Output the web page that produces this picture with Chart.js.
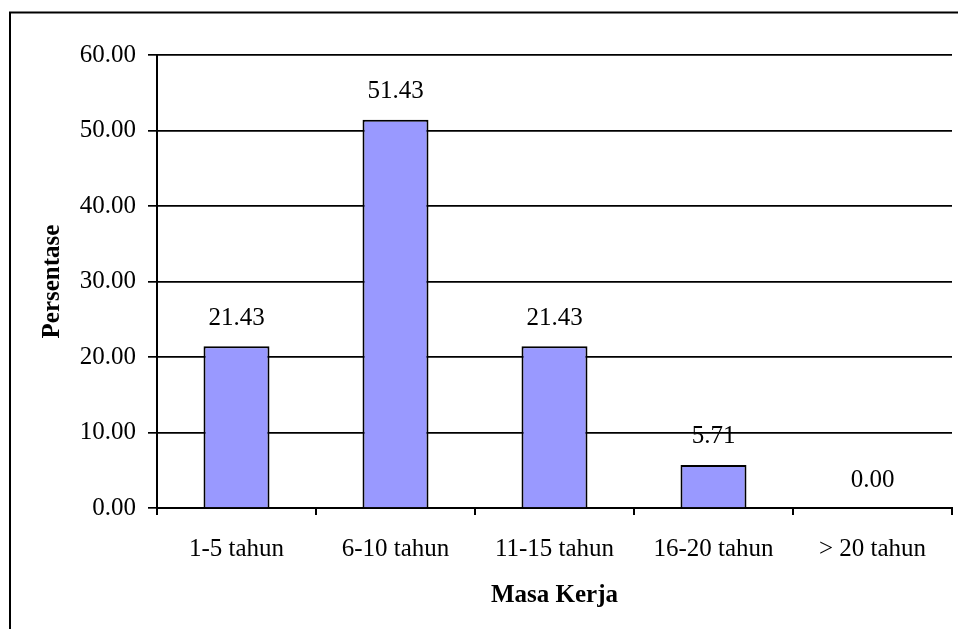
<!DOCTYPE html>
<html>
<head>
<meta charset="utf-8">
<script src="https://cdn.jsdelivr.net/npm/chart.js@4/dist/chart.umd.min.js"></script>
<style>
html,body{margin:0;padding:0;background:#fff;overflow:hidden;}
canvas{display:block;}
</style>
</head>
<body>
<canvas id="c" width="958" height="629"></canvas>
<script>
const categories = ["1-5 tahun", "6-10 tahun", "11-15 tahun", "16-20 tahun", "> 20 tahun"];
const values = [21.43, 51.43, 21.43, 5.71, 0.00];
const yTitle = "Persentase";
const xTitle = "Masa Kerja";

const FONT = "'Liberation Serif', 'Times New Roman', serif";

const framePlugin = {
  id: 'frame',
  beforeDraw(chart) {
    const ctx = chart.ctx;
    ctx.save();
    ctx.fillStyle = '#fff';
    ctx.fillRect(0, 0, chart.width, chart.height);
    ctx.strokeStyle = '#000';
    ctx.lineWidth = 2;
    ctx.strokeRect(10, 12.5, 1200, 1200);
    ctx.restore();
  }
};

const labelPlugin = {
  id: 'valueLabels',
  afterDatasetsDraw(chart) {
    const ctx = chart.ctx;
    const meta = chart.getDatasetMeta(0);
    ctx.save();
    ctx.font = "25px " + FONT;
    ctx.fillStyle = '#000';
    ctx.textAlign = 'center';
    ctx.textBaseline = 'middle';
    meta.data.forEach((bar, i) => {
      ctx.fillText(values[i].toFixed(2), bar.x, bar.y - 28);
    });
    ctx.restore();
  }
};

new Chart(document.getElementById('c'), {
  type: 'bar',
  data: {
    labels: categories,
    datasets: [{
      data: values,
      backgroundColor: '#9999FF',
      borderColor: '#000',
      borderWidth: 2,
      barPercentage: 0.415,
      categoryPercentage: 1.0
    }]
  },
  options: {
    responsive: false,
    animation: false,
    devicePixelRatio: 1,
    layout: { padding: { left: 10, top: 55, right: 6, bottom: 0 } },
    plugins: { legend: { display: false }, tooltip: { enabled: false } },
    scales: {
      x: {
        afterFit(s) { s.height = 121; },
        grid: { display: true, offset: true, drawOnChartArea: false, color: '#000', lineWidth: 2, tickLength: 7 },
        border: { display: true, color: '#000', width: 2 },
        ticks: { color: '#000', font: { family: FONT, size: 25 }, padding: 19, maxRotation: 0 },
        title: { display: true, text: xTitle, color: '#000', font: { family: FONT, size: 25, weight: 'bold' }, padding: { top: 0, bottom: 18 } }
      },
      y: {
        min: 0, max: 60,
        afterFit(s) { s.width = 147; },
        grid: { color: '#000', lineWidth: 1.7, tickLength: 9, drawTicks: true },
        border: { display: true, color: '#000', width: 2 },
        ticks: { stepSize: 10, color: '#000', font: { family: FONT, size: 25 }, padding: 12, callback: v => Number(v).toFixed(2) },
        title: { display: true, text: yTitle, color: '#000', font: { family: FONT, size: 25, weight: 'bold' }, padding: { top: 28, bottom: 0 } }
      }
    }
  },
  plugins: [framePlugin, labelPlugin]
});
</script>
</body>
</html>
